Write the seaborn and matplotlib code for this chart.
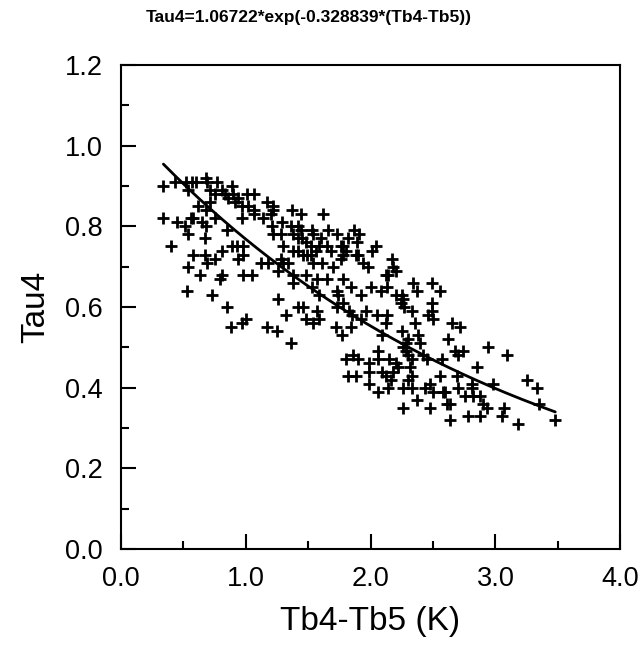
import numpy as np
import matplotlib
matplotlib.use('Agg')
import matplotlib.pyplot as plt
from matplotlib.ticker import MultipleLocator, FormatStrFormatter
import seaborn as sns

# Fit coefficients (from the title)
fit_a = 1.06722
fit_b = -0.328839

# Scatter points: Tb4-Tb5 (K) and Tau4
tb_diff = [
    0.34, 0.43, 0.52, 0.57, 0.60, 0.54, 0.68, 0.69, 0.77, 0.71,
    0.75, 0.81, 0.83, 0.89, 0.90, 0.94, 1.01, 1.07, 0.62, 0.68,
    0.71, 0.86, 0.91, 0.97, 1.02, 1.07, 1.17, 1.22, 1.22, 0.34,
    0.45, 0.51, 0.56, 0.58, 0.65, 0.68, 0.75, 0.85, 0.97, 1.07,
    1.14, 1.20, 1.21, 1.22, 0.54, 0.67, 0.40, 0.81, 0.89, 0.93,
    0.98, 0.94, 0.98, 0.58, 0.67, 0.69, 0.75, 0.54, 0.63, 0.79,
    0.81, 0.98, 1.05, 1.12, 1.18, 0.53, 0.73, 1.26, 0.85, 0.97,
    1.00, 0.88, 1.17, 1.25, 1.26,
    1.37, 1.44, 1.62, 1.29, 1.36, 1.42, 1.44, 1.28, 1.38, 1.42,
    1.45, 1.48, 1.53, 1.54, 1.60, 1.66, 1.73, 1.82, 1.87, 1.91,
    1.89, 1.30, 1.38, 1.42, 1.52, 1.56, 1.59, 1.65, 1.68, 1.76,
    1.78, 1.80, 1.76, 1.78, 1.88, 1.90, 2.01, 2.04, 1.28, 1.30,
    1.34, 1.46, 1.49, 1.52, 1.54, 1.61, 1.70, 1.94, 1.98, 1.38,
    1.38, 1.48, 1.53, 1.57, 1.59, 1.65, 1.73, 1.74, 1.78, 1.84,
    1.92, 2.00, 2.08, 2.12, 2.14, 2.17, 2.18, 2.20, 2.13, 2.20,
    2.25, 2.26, 2.34, 2.37,
    2.49, 2.56, 2.49, 2.49, 2.46, 2.50, 2.65, 2.72, 2.62, 2.40,
    2.68, 2.74, 2.70, 2.94, 3.09, 2.42, 2.45, 2.57, 2.85, 2.56,
    2.69, 3.25, 3.33, 2.44, 2.48, 2.50, 2.58, 2.60, 2.70, 2.81,
    2.81, 2.76, 2.82, 2.88, 2.98, 2.90, 2.93, 2.61, 2.64, 2.48,
    3.35, 3.07, 2.64, 2.78, 2.88, 3.05, 3.18, 3.48,
    1.32, 1.42, 1.46, 1.57, 1.48, 1.54, 1.59, 1.36, 1.73, 1.78,
    1.83, 1.85, 1.96, 1.92, 2.05, 2.13, 2.12, 1.72, 1.77, 1.84,
    2.09, 2.24, 2.27, 2.33, 2.36, 2.25, 2.28, 2.30, 2.26, 2.38,
    1.80, 1.86, 1.90, 1.99, 2.06, 2.06, 2.15, 2.20, 2.18, 2.22,
    2.28, 2.30, 2.33, 2.32, 2.33, 2.30, 2.33, 1.82, 1.88, 1.99,
    1.99, 2.09, 2.12, 2.16, 2.14, 2.06, 2.26, 2.37, 2.26,
]
tau4 = [
    0.90, 0.91, 0.91, 0.91, 0.91, 0.89, 0.92, 0.91, 0.91, 0.89,
    0.88, 0.89, 0.88, 0.90, 0.88, 0.87, 0.88, 0.88, 0.85, 0.84,
    0.86, 0.87, 0.86, 0.85, 0.85, 0.84, 0.86, 0.85, 0.84, 0.82,
    0.81, 0.80, 0.82, 0.82, 0.81, 0.80, 0.82, 0.79, 0.82, 0.83,
    0.82, 0.83, 0.80, 0.78, 0.78, 0.77, 0.75, 0.74, 0.75, 0.75,
    0.75, 0.72, 0.73, 0.73, 0.73, 0.71, 0.72, 0.70, 0.68, 0.67,
    0.68, 0.68, 0.68, 0.71, 0.71, 0.64, 0.63, 0.62, 0.60, 0.56,
    0.57, 0.55, 0.55, 0.54, 0.69,
    0.84, 0.83, 0.83, 0.81, 0.80, 0.80, 0.79, 0.78, 0.78, 0.77,
    0.77, 0.76, 0.79, 0.78, 0.77, 0.79, 0.78, 0.77, 0.79, 0.78,
    0.76, 0.75, 0.74, 0.74, 0.75, 0.74, 0.75, 0.75, 0.74, 0.75,
    0.75, 0.74, 0.72, 0.73, 0.73, 0.73, 0.74, 0.75, 0.72, 0.71,
    0.71, 0.73, 0.73, 0.73, 0.71, 0.71, 0.70, 0.71, 0.70, 0.68,
    0.66, 0.68, 0.65, 0.67, 0.63, 0.67, 0.64, 0.63, 0.67, 0.65,
    0.63, 0.65, 0.64, 0.68, 0.68, 0.72, 0.70, 0.69, 0.65, 0.63,
    0.63, 0.62, 0.66, 0.64,
    0.66, 0.64, 0.61, 0.59, 0.58, 0.57, 0.56, 0.55, 0.52, 0.51,
    0.49, 0.49, 0.48, 0.50, 0.48, 0.48, 0.47, 0.47, 0.45, 0.43,
    0.43, 0.42, 0.40, 0.40, 0.41, 0.39, 0.39, 0.39, 0.40, 0.41,
    0.40, 0.38, 0.38, 0.38, 0.41, 0.36, 0.35, 0.36, 0.36, 0.35,
    0.36, 0.35, 0.32, 0.33, 0.33, 0.33, 0.31, 0.32,
    0.58, 0.60, 0.60, 0.59, 0.57, 0.56, 0.57, 0.51, 0.60, 0.61,
    0.59, 0.58, 0.59, 0.57, 0.58, 0.58, 0.56, 0.55, 0.53, 0.55,
    0.53, 0.61, 0.60, 0.59, 0.56, 0.54, 0.51, 0.52, 0.50, 0.53,
    0.47, 0.48, 0.47, 0.46, 0.49, 0.47, 0.47, 0.46, 0.44, 0.45,
    0.49, 0.48, 0.47, 0.45, 0.43, 0.42, 0.40, 0.43, 0.43, 0.44,
    0.41, 0.44, 0.43, 0.42, 0.40, 0.39, 0.40, 0.37, 0.35,
]

sns.set_style('ticks')
plt.rcParams['font.family'] = ['Liberation Sans', 'DejaVu Sans']
plt.rcParams['text.color'] = 'black'
plt.rcParams['axes.labelcolor'] = 'black'

fig, ax = plt.subplots(figsize=(6.4, 6.54), dpi=100)
fig.subplots_adjust(left=0.189, right=0.969, bottom=0.1606, top=0.9006)

sns.scatterplot(x=tb_diff, y=tau4, marker='+', color='black', s=65,
                linewidth=2.0, ax=ax, zorder=3)

# Fitted curve over the range of the data
x_fit = np.linspace(min(tb_diff), max(tb_diff), 200)
y_fit = fit_a * np.exp(fit_b * x_fit)
sns.lineplot(x=x_fit, y=y_fit, color='black', linewidth=2, ax=ax)

ax.set_xlim(0, 4)
ax.set_ylim(0, 1.2)
ax.xaxis.set_major_locator(MultipleLocator(1.0))
ax.xaxis.set_minor_locator(MultipleLocator(0.5))
ax.yaxis.set_major_locator(MultipleLocator(0.2))
ax.yaxis.set_minor_locator(MultipleLocator(0.1))
ax.xaxis.set_major_formatter(FormatStrFormatter('%.1f'))
ax.yaxis.set_major_formatter(FormatStrFormatter('%.1f'))

ax.tick_params(which='both', direction='in', top=False, right=False, width=1.5,
               colors='black', labelcolor='black')
ax.tick_params(which='major', length=11, labelsize=19.5)
ax.tick_params(which='minor', length=6)
ax.tick_params(axis='y', which='major', pad=13)
ax.tick_params(axis='x', which='major', pad=12)

for side in ['top', 'right', 'bottom', 'left']:
    ax.spines[side].set_visible(True)
    ax.spines[side].set_linewidth(1.5)
    ax.spines[side].set_color('black')

ax.set_xlabel('Tb4-Tb5 (K)', fontsize=24, labelpad=10)
ax.set_ylabel('Tau4', fontsize=24, labelpad=10)
fig.suptitle('Tau4=1.06722*exp(-0.328839*(Tb4-Tb5))', x=0.483, y=0.985,
             fontsize=12.5, fontweight='bold', color='black')

plt.savefig('out.png', dpi=100)
plt.close()
